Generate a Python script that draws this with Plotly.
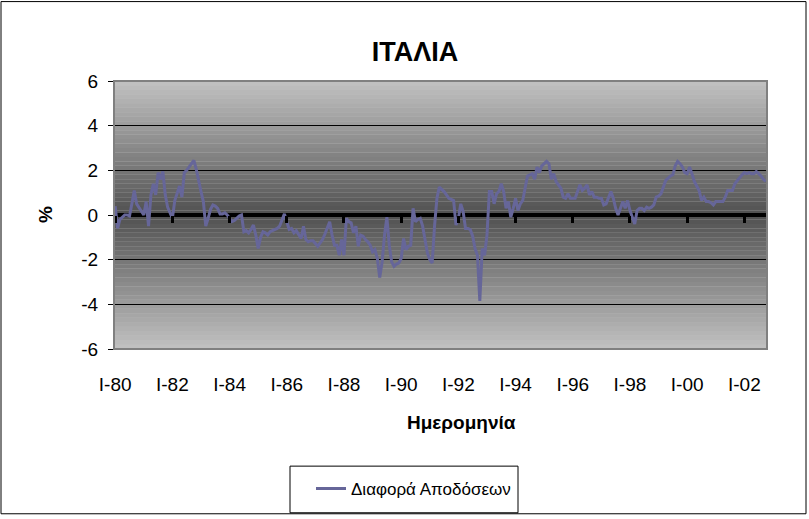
import plotly.graph_objects as go

# ---- data (monthly, Jan 1980 .. Oct 2002) ----
roman = ["I", "II", "III", "IV", "V", "VI", "VII", "VIII", "IX", "X", "XI", "XII"]
months = [f"{roman[m]}-{y % 100:02d}" for y in range(1980, 2003) for m in range(12)][:274]

vals_1980_83 = [0.4, -0.6, -0.2, -0.1, 0.0, 0.0, -0.05, 0.5, 1.1, 0.5, 0.35, 0.15,
                0.0, 0.6, -0.5, 0.9, 1.4, 0.9, 1.9, 1.6, 1.95, 0.9, 0.35, 0.1,
                -0.15, 0.65, 1.0, 1.3, 0.8, 1.9, 2.0, 2.15, 2.3, 2.45, 2.05, 1.5,
                1.05, 0.6, -0.5, -0.15, 0.25, 0.45, 0.4, 0.3, 0.05, 0.05, 0.1, 0.0]
vals_1984_87 = [-0.15, -0.3, -0.25, -0.15, -0.05, 0.0, -0.75, -0.7, -0.8, -0.65, -0.45, -0.9,
                -1.5, -1.0, -0.75, -0.8, -0.9, -0.75, -0.7, -0.65, -0.6, -0.5, -0.25, 0.05,
                -0.3, -0.65, -0.6, -0.8, -0.7, -0.9, -1.05, -0.5, -1.1, -1.2, -1.15, -1.15,
                -1.3, -1.4, -1.25, -1.1, -0.85, -0.6, -0.3, -0.9, -1.35, -1.35, -1.8, -1.1]
vals_1988_91 = [-1.8, -0.15, -0.3, -0.35, -0.8, -0.5, -1.4, -0.9, -0.95, -1.1, -1.2, -1.35,
                -1.65, -1.55, -1.95, -2.8, -2.1, -0.9, -0.1, -1.35, -2.1, -2.3, -2.2, -2.15,
                -1.95, -1.05, -1.55, -1.4, -1.35, 0.3, -0.3, -0.2, -0.15, -0.5, -1.1, -1.7,
                -2.0, -2.15, -0.5, 0.75, 1.25, 1.15, 1.05, 0.9, 0.75, 0.7, 0.65, -0.45]
vals_1992_95 = [-0.15, 0.5, 0.15, -0.6, -0.6, -0.65, -0.95, -1.5, -1.8, -3.85, -1.5, -1.8,
                -0.9, 1.05, 1.05, 0.5, 0.95, 1.05, 1.4, 1.05, 0.3, 0.6, -0.1, 0.3,
                0.75, 0.2, 0.5, 0.65, 1.25, 1.75, 1.8, 1.85, 1.6, 2.15, 1.9, 2.2,
                2.3, 2.4, 2.3, 1.6, 1.85, 1.5, 1.35, 1.2, 0.8, 0.75, 0.95, 0.75]
vals_1996_99 = [0.75, 0.75, 1.05, 1.35, 1.1, 1.2, 1.35, 0.9, 1.05, 0.8, 0.8, 0.75,
                0.75, 0.45, 0.5, 0.75, 1.05, 0.75, 0.3, 0.0, 0.3, 0.6, 0.3, 0.65,
                0.2, -0.1, -0.4, 0.2, 0.3, 0.3, 0.2, 0.35, 0.3, 0.35, 0.45, 0.8,
                0.85, 0.95, 1.25, 1.55, 1.65, 1.75, 1.8, 2.2, 2.4, 2.3, 2.15, 1.9]
vals_2000_02 = [1.85, 2.15, 1.85, 1.5, 1.3, 1.1, 0.65, 0.8, 0.6, 0.6, 0.55, 0.45,
                0.6, 0.6, 0.6, 0.6, 0.8, 1.1, 1.1, 1.1, 1.4, 1.55, 1.7, 1.8,
                1.9, 1.85, 1.9, 1.85, 1.85, 1.95, 1.85, 1.75, 1.6, 1.5]
values = vals_1980_83 + vals_1984_87 + vals_1988_91 + vals_1992_95 + vals_1996_99 + vals_2000_02

tick_labels = months[::24]
y_ticks = [-6, -4, -2, 0, 2, 4, 6]
y_tick_text = ["-6", "-4", "-2", "0", "2", "4", "6"]

FONT = "Arial, 'Liberation Sans', sans-serif"
W, H = 809, 519
L, R, T, B = 114, 767, 81, 351
pw, ph = R - L, B - T

fig = go.Figure()
fig.add_trace(go.Scatter(x=months, y=values, mode="lines", name="Διαφορά Αποδόσεων",
                         line=dict(color="#666699", width=3)))

# gradient background bands (light edges, dark centre)
shapes = []
N = 60
dark, light = 80, 194
for k in range(N):
    t = (k + 0.5) / N
    d = abs(t - 0.5) / 0.5
    g = int(round(dark + (light - dark) * d))
    shapes.append(dict(type="rect", xref="x domain", yref="y domain",
                       x0=0, x1=1, y0=k / N, y1=(k + 1) / N,
                       fillcolor=f"rgb({g},{g},{g})", line=dict(width=0), layer="below"))
# plot-area border
shapes.append(dict(type="rect", xref="x domain", yref="y domain", x0=0, x1=1, y0=0, y1=1,
                   line=dict(color="#808080", width=2), fillcolor="rgba(0,0,0,0)", layer="above"))
# chart-area border
shapes.append(dict(type="rect", xref="paper", yref="paper",
                   x0=(1 - L) / pw, x1=(806 - L) / pw,
                   y0=(B - 517) / ph, y1=(B - 1) / ph,
                   line=dict(color="black", width=1), fillcolor="rgba(0,0,0,0)"))
# legend frame
shapes.append(dict(type="rect", xref="paper", yref="paper",
                   x0=(290 - L) / pw, x1=(518 - L) / pw,
                   y0=(B - 516) / ph, y1=(B - 469) / ph,
                   line=dict(color="black", width=1), fillcolor="white"))

fig.update_layout(
    width=W, height=H,
    margin=dict(l=L, r=W - R, t=T, b=H - B),
    paper_bgcolor="white", plot_bgcolor="#c0c0c0",
    font=dict(family=FONT, size=18, color="black"),
    title=dict(text="<b>ΙΤΑΛΙΑ</b>", x=415 / W, xref="container", xanchor="center",
               y=1 - 52 / H, yref="container", yanchor="middle",
               font=dict(size=27, family=FONT, color="black")),
    xaxis=dict(type="category", categoryorder="array", categoryarray=months,
               range=[-0.5, len(months) - 0.5],
               tickmode="array", tickvals=tick_labels, ticktext=tick_labels,
               ticks="", showgrid=False, showline=False, zeroline=False,
               ticklabelstandoff=22, tickfont=dict(size=19)),
    xaxis2=dict(overlaying="x", anchor="free", position=0.5, side="bottom",
                range=[-0.5, len(months) - 0.5],
                tickmode="array", tickvals=list(range(0, len(months), 24)),
                ticks="outside", ticklen=7, tickwidth=3, tickcolor="black",
                showticklabels=False, showgrid=False, showline=False, zeroline=False),
    yaxis=dict(range=[-6, 6], tickmode="array", tickvals=y_ticks, ticktext=y_tick_text,
               ticks="outside", ticklen=5, tickcolor="black",
               showline=True, linecolor="black", linewidth=1,
               showgrid=True, gridcolor="black", gridwidth=1,
               zeroline=True, zerolinecolor="black", zerolinewidth=4,
               ticklabelstandoff=6, tickfont=dict(size=19)),
    showlegend=True,
    legend=dict(x=(311 - L) / pw, xanchor="left", y=(B - 492) / ph, yanchor="middle",
                borderwidth=0, bgcolor="rgba(0,0,0,0)",
                font=dict(size=17, family=FONT)),
    shapes=shapes,
    annotations=[
        dict(text="<b>%</b>", xref="paper", yref="paper", x=(45 - L) / pw, y=0.5,
             xanchor="center", yanchor="middle", textangle=-90, showarrow=False,
             font=dict(size=19, family=FONT)),
        dict(text="<b>Ημερομηνία</b>", xref="paper", yref="paper", x=(461 - L) / pw,
             y=(B - 425) / ph, xanchor="center", yanchor="middle", showarrow=False,
             font=dict(size=19, family=FONT)),
    ],
)
# invisible trace to keep the overlay axis alive
fig.add_trace(go.Scatter(x=[0], y=[0], xaxis="x2", mode="markers",
                         marker=dict(opacity=0), showlegend=False, hoverinfo="skip"))

fig.write_html("out.html")
